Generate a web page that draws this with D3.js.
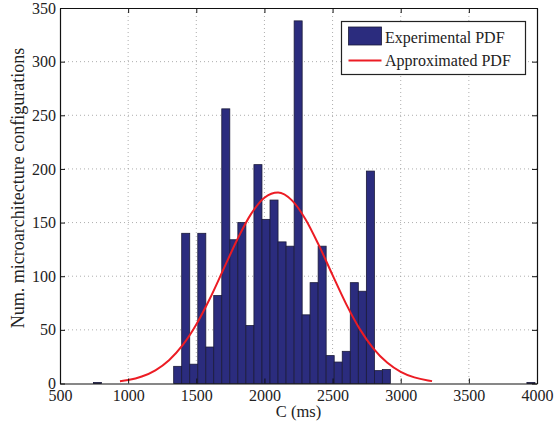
<!DOCTYPE html>
<html>
<head>
    <meta charset="utf-8">
    <title>Histogram of C</title>
    <style>
        body { margin: 0; background: #fff; }
        text { font-family: "Liberation Serif", "Times New Roman", serif; fill: #222; }
    </style>
</head>
<body>
    <script src="https://d3js.org/d3.v7.min.js"></script>
    <script>
        // histogram bins (left edge in ms) and counts
        var binWidth = 58.9;
        var binStarts = [745, 1334, 1393, 1452, 1511, 1570, 1628, 1687, 1746, 1805, 1864, 1923, 1982, 2041,
            2100, 2159, 2218, 2276, 2335, 2394, 2453, 2512, 2571, 2630, 2689, 2748, 2807, 2865, 3926];
        var counts = [1, 16, 140, 18, 140, 34, 82, 256, 134, 150, 54, 204, 153, 171,
            132, 128, 338, 64, 94, 128, 26, 20, 30, 94, 86, 198, 12, 13, 1];

        // approximated pdf (red curve), sampled points
        var pdfX = [940, 1000, 1100, 1200, 1300, 1400, 1500, 1600, 1700, 1800, 1900, 2000, 2100,
            2200, 2300, 2400, 2500, 2600, 2700, 2800, 2900, 3000, 3100, 3200, 3230];
        var pdfY = [2.1, 3.2, 6.5, 12.3, 21.7, 35.7, 55.0, 79.2, 106.6, 134.0, 157.6, 173.2, 178.0,
            170.9, 153.4, 128.7, 101.0, 74.0, 50.7, 32.5, 19.5, 10.9, 5.7, 2.8, 2.2];

        var xTicks = [500, 1000, 1500, 2000, 2500, 3000, 3500, 4000];
        var yTicks = [0, 50, 100, 150, 200, 250, 300, 350];

        var width = 555, height = 426;
        var pL = 60, pR = 537, pT = 8, pB = 383.5; // plot box
        var tickLen = 5;

        var svg = d3.select("body").append("svg").attr("width", width).attr("height", height);
        svg.append("rect").attr("width", width).attr("height", height).attr("fill", "#fff");

        var x = d3.scaleLinear().domain([500, 4000]).range([pL, pR]);
        var y = d3.scaleLinear().domain([0, 350]).range([pB, pT]);

        // dotted grid
        var grid = svg.append("g").attr("stroke", "#999").attr("stroke-width", 0.8).attr("stroke-dasharray", "1,3");
        grid.selectAll(".gx").data(xTicks.slice(1, -1)).enter().append("line")
            .attr("x1", d => x(d)).attr("x2", d => x(d)).attr("y1", pT).attr("y2", pB);
        grid.selectAll(".gy").data(yTicks.slice(1, -1)).enter().append("line")
            .attr("x1", pL).attr("x2", pR).attr("y1", d => y(d)).attr("y2", d => y(d));

        // bars
        var bins = binStarts.map((s, i) => ({ s: s, c: counts[i] }));
        svg.append("g").selectAll("rect").data(bins).enter().append("rect")
            .attr("x", d => x(d.s))
            .attr("width", d => x(d.s + binWidth) - x(d.s))
            .attr("y", d => y(d.c))
            .attr("height", d => y(0) - y(d.c))
            .attr("fill", "#2b2c7e")
            .attr("stroke", "#1b1b3a")
            .attr("stroke-width", 0.8);

        // red curve
        var line = d3.line().x(d => x(d[0])).y(d => y(d[1])).curve(d3.curveMonotoneX);
        svg.append("path").datum(d3.zip(pdfX, pdfY))
            .attr("d", line)
            .attr("fill", "none")
            .attr("stroke", "#ec1c24")
            .attr("stroke-width", 2);

        // axes: box + inward ticks on all four sides
        var fmt = d3.format("d");
        var axB = svg.append("g").attr("transform", "translate(0," + pB + ")")
            .call(d3.axisBottom(x).tickValues(xTicks).tickFormat(fmt).tickSizeInner(-tickLen).tickSizeOuter(0));
        var axT = svg.append("g").attr("transform", "translate(0," + pT + ")")
            .call(d3.axisTop(x).tickValues(xTicks).tickSizeInner(-tickLen).tickSizeOuter(0).tickFormat(""));
        var axL = svg.append("g").attr("transform", "translate(" + pL + ",0)")
            .call(d3.axisLeft(y).tickValues(yTicks).tickFormat(fmt).tickSizeInner(-tickLen).tickSizeOuter(0).tickPadding(4));
        var axR = svg.append("g").attr("transform", "translate(" + pR + ",0)")
            .call(d3.axisRight(y).tickValues(yTicks).tickSizeInner(-tickLen).tickSizeOuter(0).tickFormat(""));

        [axB, axT, axL, axR].forEach(a => {
            a.select(".domain").attr("stroke", "#111").attr("stroke-width", 1.2);
            a.selectAll(".tick line").attr("stroke", "#111");
            a.selectAll("text").attr("font-family", "Liberation Serif").attr("font-size", "16px").attr("fill", "#222");
        });
        axB.selectAll("text").attr("y", 17.5).attr("dy", 0); // baseline ~401

        // axis labels
        svg.append("text").text("C (ms)")
            .attr("x", (pL + pR) / 2).attr("y", 416.5)
            .attr("text-anchor", "middle").attr("font-size", "16.5px");
        svg.append("text").text("Num. microarchitecture configurations")
            .attr("transform", "translate(24," + 188 + ") rotate(-90)")
            .attr("text-anchor", "middle").attr("font-size", "18px");

        // legend
        var lg = svg.append("g");
        lg.append("rect").attr("x", 341.5).attr("y", 21.5).attr("width", 184).attr("height", 53)
            .attr("fill", "#fff").attr("stroke", "#222").attr("stroke-width", 1.2);
        lg.append("rect").attr("x", 348.5).attr("y", 27).attr("width", 33).attr("height", 18)
            .attr("fill", "#2b2c7e").attr("stroke", "#1b1b3a").attr("stroke-width", 0.8);
        lg.append("line").attr("x1", 348.5).attr("x2", 381.5).attr("y1", 60.5).attr("y2", 60.5)
            .attr("stroke", "#ec1c24").attr("stroke-width", 2);
        lg.append("text").text("Experimental PDF").attr("x", 385).attr("y", 42.5).attr("font-size", "16px");
        lg.append("text").text("Approximated PDF").attr("x", 385).attr("y", 66).attr("font-size", "16px");
    </script>
</body>
</html>
